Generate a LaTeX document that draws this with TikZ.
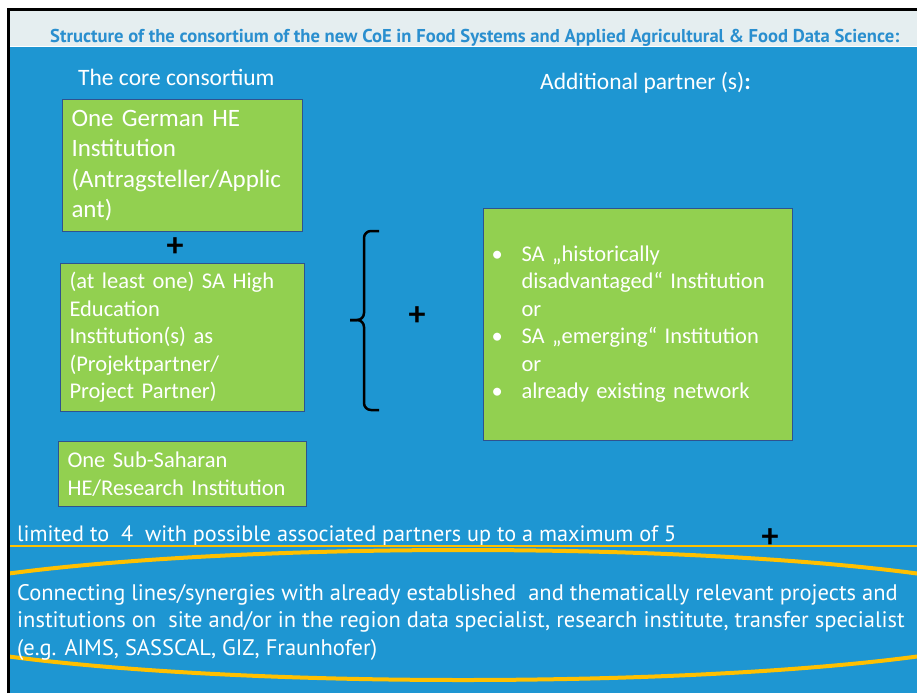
\documentclass[tikz,border=0pt]{standalone}
\usepackage{fontspec}
\setmainfont{Carlito}
\newfontfamily\narrowfont{PT Sans}
\newfontfamily\titlefont{PT Sans}
\usetikzlibrary{positioning}

\definecolor{slideblue}{RGB}{30,150,210}
\definecolor{bandgray}{RGB}{229,238,240}
\definecolor{titleblue}{RGB}{42,143,207}
\definecolor{boxgreen}{RGB}{146,208,80}
\definecolor{boxline}{RGB}{47,82,143}
\definecolor{ringorange}{RGB}{255,192,0}

\tikzset{
    greenbox/.style={draw=boxline, line width=1pt, fill=boxgreen, text=white, align=left,
        anchor=north west, inner xsep=9pt, inner ysep=0pt, font=\fontsize{22.5}{27.5}\selectfont},
    plussign/.style={text=black, inner sep=0pt, font=\fontsize{34}{34}\selectfont\bfseries},
    slidetext/.style={text=white, inner sep=0pt, anchor=base west, font=\fontsize{23.5}{27.5}\selectfont},
    bracket/.style={line width=2.5pt, rounded corners=7pt},
}

\begin{document}
\begin{tikzpicture}[x=1pt, y=-1pt]
    \useasboundingbox (0,0) rectangle (917,693);
    \fill[white] (0,0) rectangle (917,693);
    \fill[bandgray] (10,11) rectangle (917,46);
    \fill[slideblue] (10,47) rectangle (917,693);
    \draw[line width=3pt] (8.5,693) |- (917,9.5);

    \node[anchor=base west, inner sep=0pt, text=titleblue, font=\titlefont\fontsize{18.6}{18.6}\selectfont\bfseries] (title) at (50,43)
        {Structure of the consortium of the new CoE in Food Systems and Applied Agricultural \& Food Data Science:};

    \node[slidetext] (core) at (78,85) {The core consortium};
    \node[slidetext] (extra) at (540,89) {Additional partner (s)\textbf{:}};

    \node[greenbox, text width=222pt, minimum height=132pt, font=\fontsize{25}{30.5}\selectfont] (german) at (62,99)
        {One German HE\\Institution\\(Antragsteller/Applic\\ant)};
    \node[plussign] (plusA) at (175,247) {+};
    \node[greenbox, text width=226pt, minimum height=148pt] (sahigh) at (60,263)
        {(at least one) SA High\\Education\\Institution(s) as\\(Projektpartner/\\Project Partner)};
    \node[greenbox, text width=230pt, minimum height=65pt] (subsahara) at (58,441)
        {One Sub-Saharan\\HE/Research Institution};

    % left curly bracket
    \coordinate (btop) at (379,231);
    \coordinate (bmid) at (350,320);
    \coordinate (bbot) at (379,410);
    \draw[bracket] (btop) -| (364,320) -- (bmid);
    \draw[bracket] (bbot) -| (364,320) -- (bmid);
    \node[plussign] (plusB) at (417,316) {+};

    \node[greenbox, inner xsep=14pt, text width=281pt, minimum height=232pt] (partners) at (483,208)
        {\begin{tabular}{@{}p{24pt}@{}l@{}}
        \hspace*{-6pt}• & SA „historically\\
          & disadvantaged“ Institution\\
          & or\\
        \hspace*{-6pt}• & SA „emerging“ Institution\\
          & or\\
        \hspace*{-6pt}• & already existing network
        \end{tabular}};

    \node[slidetext, font=\narrowfont\fontsize{22.2}{27.5}\selectfont] (limit) at (17,541)
        {limited to~ 4~ with possible associated partners up to a maximum of 5};
    \draw[ringorange, line width=1.5pt] (10,546) -- (917,546);
    \node[plussign] (plusC) at (770,538) {+};

    \begin{scope}
        \clip (10,47) rectangle (917,693);
        \draw[ringorange, line width=4pt] (463,615) ellipse [x radius=590pt, y radius=65pt];
    \end{scope}

    \node[slidetext, align=left, font=\narrowfont\fontsize{22.5}{27.5}\selectfont] (links) at (17,655)
        {Connecting lines/synergies with already established~ and thematically relevant projects and\\
        institutions on~ site and/or in the region data specialist, research institute, transfer specialist\\
        (e.g. AIMS, SASSCAL, GIZ, Fraunhofer)};
\end{tikzpicture}
\end{document}
